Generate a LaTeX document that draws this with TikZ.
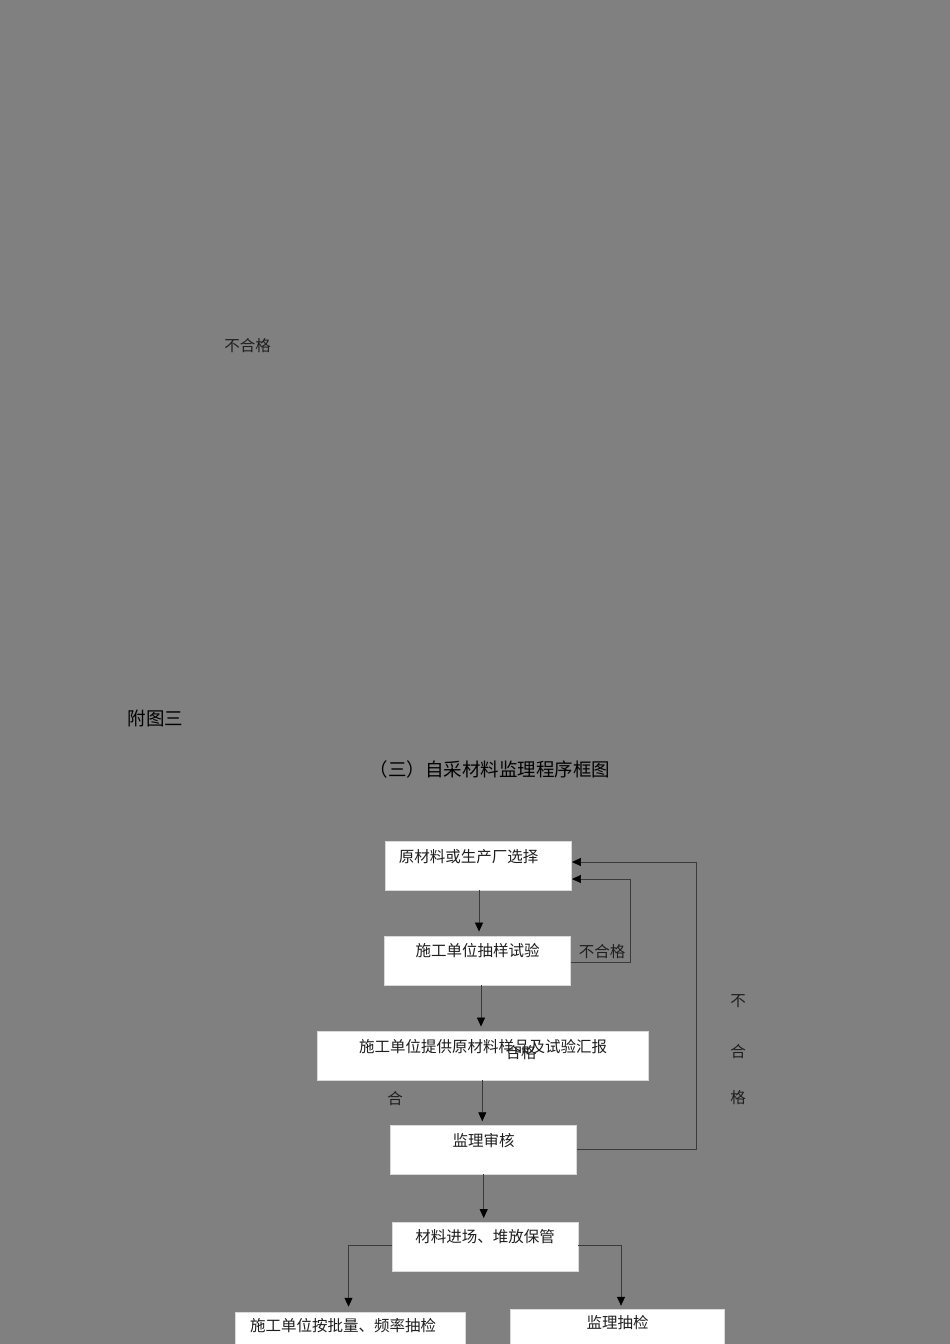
\documentclass[tikz,border=0pt]{standalone}
\usepackage{fontspec}
\setmainfont{Noto Sans CJK SC}
\usetikzlibrary{arrows.meta}
\definecolor{bg}{HTML}{808080}
\definecolor{txt}{HTML}{1E1E1E}
\definecolor{ln}{HTML}{3A3A3A}
\begin{document}
\begin{tikzpicture}[x=1pt,y=-1pt,
  box/.style={draw=black!15, line width=0.5pt, fill=white, inner sep=0pt},
  lbl/.style={inner sep=0pt, text=txt, font=\fontsize{15.5pt}{16pt}\selectfont},
  ttl/.style={inner sep=0pt, text=black, font=\fontsize{18.5pt}{19pt}\selectfont},
  arr/.style={draw=ln, line width=0.7pt, -{Triangle[length=9pt,width=8pt,color=black]}},
  lin/.style={draw=ln, line width=0.7pt}]
\fill[bg] (0,0) rectangle (950,1344);
\useasboundingbox (0,0) rectangle (950,1344);
\clip (0,0) rectangle (950,1344);

% stray label and titles
\node[lbl] (stray) at (247.5,346) {不合格};
\node[ttl] (fig) at (155.5,718.5) {附图三};
\node[ttl] (title) at (490,769) {（三）自采材料监理程序框图};

% boxes
\node[box, minimum width=186pt, minimum height=49pt] (b1) at (478.7,865.5) {};
\node[box, minimum width=186pt, minimum height=49pt] (b2) at (477.3,960.3) {};
\node[box, minimum width=330.6pt, minimum height=49pt] (b3) at (483,1055.3) {};
\node[box, minimum width=186pt, minimum height=49pt] (b4) at (483.7,1149.5) {};
\node[box, minimum width=186pt, minimum height=49pt] (b5) at (485,1246.5) {};
\node[box, minimum width=230pt, minimum height=60pt] (b6) at (350,1342) {};
\node[box, minimum width=214pt, minimum height=60pt] (b7) at (617,1339) {};

% box texts
\node[lbl] (t1) at (468.5,857) {原材料或生产厂选择};
\node[lbl] (t2) at (477.5,951) {施工单位抽样试验};
\node[lbl] (t3) at (483,1046.5) {施工单位提供原材料样品及试验汇报};
\node[lbl] (t4) at (483.5,1141) {监理审核};
\node[lbl] (t5) at (485,1237) {材料进场、堆放保管};
\node[lbl] (t6) at (343,1326) {施工单位按批量、频率抽检};
\node[lbl] (t7) at (617.5,1323) {监理抽检};

% other labels
\node[lbl] (n1) at (602,951.5) {不合格};
\node[lbl] (n2) at (521,1053) {合格};
\node[lbl] (n3) at (395,1099) {合};
\node[lbl] (v1) at (738,1001) {不};
\node[lbl] (v2) at (738,1052) {合};
\node[lbl] (v3) at (738,1098) {格};

% coordinates of the return paths
\coordinate (r1) at (630.7,962);
\coordinate (r2) at (696.7,1149);

% main flow
\draw[arr, shorten >=4pt] ([xshift=0.3pt]b1.south) -- ([xshift=0.3pt]b1.south |- b2.north);
\draw[arr, shorten >=4pt] ([xshift=3.7pt]b2.south) -- ([xshift=3.7pt]b2.south |- b3.north);
\draw[arr, shorten >=3.5pt] ([xshift=-0.7pt]b3.south) -- ([xshift=-0.7pt]b3.south |- b4.north);
\draw[arr, shorten >=3.7pt] (b4.south) -- (b4.south |- b5.north);
\draw[arr, shorten >=5pt] ([yshift=1.5pt]b5.west) -| ([xshift=-1.5pt]b6.north);
\draw[arr, shorten >=3pt] ([yshift=1.5pt]b5.east) -| ([xshift=4pt]b7.north);

% return paths
\draw[lin] (b2.east |- r1) -- (r1);
\draw[arr] (r1) |- ([yshift=-13.5pt]b1.east);
\draw[lin] (b4.east |- r2) -- (r2);
\draw[arr] (r2) |- ([yshift=3.5pt]b1.east);
\end{tikzpicture}
\end{document}
